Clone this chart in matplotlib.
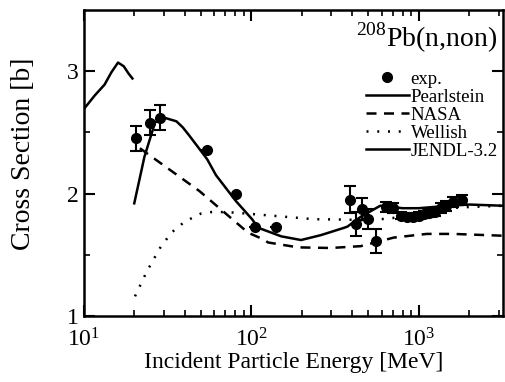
import matplotlib.pyplot as plt
from matplotlib.lines import Line2D

plt.rcParams['font.family'] = ['Liberation Serif', 'DejaVu Serif']
plt.rcParams['mathtext.fontset'] = 'custom'
plt.rcParams['mathtext.rm'] = 'Liberation Serif'

# experimental data: energy [MeV], cross section [b], error [b]
exp_e = [20.5, 24.8, 28.6, 54.5, 80.7, 105, 141, 387, 424, 456, 497, 558,
         640, 700, 780, 850, 920, 1000, 1080, 1150, 1250, 1350, 1450, 1600, 1800]
exp_s = [2.45, 2.58, 2.62, 2.355, 2.0, 1.73, 1.73, 1.95, 1.75, 1.87, 1.79, 1.61,
         1.89, 1.88, 1.82, 1.81, 1.81, 1.82, 1.83, 1.84, 1.85, 1.88, 1.90, 1.93, 1.95]
exp_err = [0.1, 0.1, 0.1, 0, 0, 0, 0, 0.11, 0.1, 0.09, 0.08, 0.1,
           0.04, 0.04, 0.03, 0.03, 0.03, 0.03, 0.03, 0.03, 0.03, 0.04, 0.04, 0.04, 0.04]

pear_e = [20, 23, 26.6, 29, 31, 35.7, 39, 42.8, 46.8, 54.5, 61.5, 80.7, 101, 110,
          151, 198, 260, 358, 375, 450, 588, 800, 1000, 1500, 2000, 3200]
pear_s = [1.92, 2.3, 2.58, 2.61, 2.615, 2.59, 2.54, 2.47, 2.40, 2.28, 2.15, 1.94,
          1.79, 1.72, 1.65, 1.62, 1.66, 1.72, 1.73, 1.81, 1.90, 1.88, 1.88, 1.90,
          1.91, 1.90]

nasa_e = [21.6, 49, 95.6, 116, 126, 190, 297, 450, 708, 1114, 1600, 3200]
nasa_s = [2.37, 2.02, 1.68, 1.63, 1.60, 1.56, 1.555, 1.57, 1.64, 1.67, 1.67, 1.655]

well_e = [20.2, 23.7, 28.5, 33.3, 40, 50, 58.7, 73.8, 106, 238, 375, 500,
          700, 1000, 1500, 2000, 3200]
well_s = [1.16, 1.36, 1.555, 1.68, 1.77, 1.836, 1.85, 1.847, 1.83, 1.79, 1.787,
          1.78, 1.80, 1.84, 1.88, 1.89, 1.90]

jendl_e = [10, 11.6, 13.3, 14.6, 16, 17.3, 18.5, 19.5]
jendl_s = [2.69, 2.80, 2.89, 2.99, 3.07, 3.04, 2.98, 2.94]

fig = plt.figure(figsize=(5.05, 3.82), dpi=100)
ax = fig.add_axes([0.166, 0.173, 0.831, 0.801])

ax.errorbar(exp_e, exp_s, yerr=exp_err, fmt='o', color='black', ms=7,
            capsize=4, elinewidth=1.5, capthick=1.5)
l_pear, = ax.plot(pear_e, pear_s, '-', color='black', lw=1.8)
l_nasa, = ax.plot(nasa_e, nasa_s, '--', color='black', lw=1.8, dashes=(4, 3))
l_well, = ax.plot(well_e, well_s, color='black', lw=1.8, linestyle=(0, (0.8, 3.5)))
l_jendl, = ax.plot(jendl_e, jendl_s, '-', color='black', lw=1.8)

ax.set_xscale('log')
ax.set_xlim(10, 3200)
ax.set_ylim(1, 3.5)
ax.set_yticks([1, 2, 3])
ax.set_yticks([1.5, 2.5], minor=True)

ax.tick_params(which='both', direction='in', top=True, right=True, labelsize=17)
ax.tick_params(which='major', length=8, width=1.5)
ax.tick_params(which='minor', length=4, width=1.2)
ax.tick_params(axis='x', which='both', pad=9)
for s in ax.spines.values():
    s.set_linewidth(1.8)

ax.set_xlabel('Incident Particle Energy [MeV]', fontsize=17, labelpad=0)
ax.set_ylabel('Cross Section [b]', fontsize=20)
ax.yaxis.set_label_coords(-0.115, 0.53)

ax.text(0.985, 0.91, '$^{208}$Pb(n,non)', transform=ax.transAxes, ha='right',
        va='center', fontsize=20)

exp_handle = Line2D([], [], marker='o', color='black', ls='none', ms=7)
ax.legend([exp_handle, l_pear, l_nasa, l_well, l_jendl],
          ['exp.', 'Pearlstein', 'NASA', 'Wellish', 'JENDL-3.2'],
          loc='upper right', bbox_to_anchor=(1.0, 0.82), frameon=False,
          fontsize=13.5, handlelength=2.3, handletextpad=0.1, labelspacing=0.05,
          borderaxespad=0.1, borderpad=0.2)

fig.savefig('out.png', dpi=100)
